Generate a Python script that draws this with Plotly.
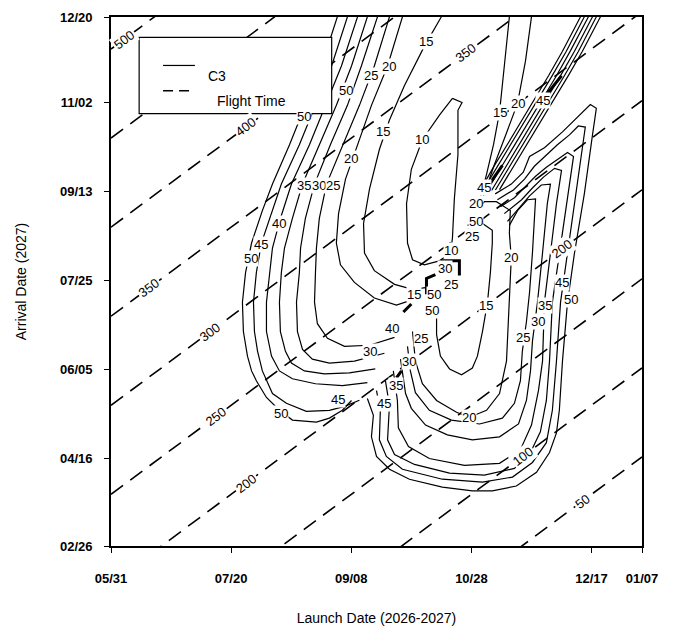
import plotly.graph_objects as go

# ---------------- axes (days since 05/31/2026 and since 02/26/2027) ----------------
LAUNCH_TICK_DAYS = [0, 50, 100, 150, 200, 221]
LAUNCH_TICK_TEXT = ["05/31", "07/20", "09/08", "10/28", "12/17", "01/07"]
ARRIVAL_TICK_DAYS = [0, 49, 99, 149, 199, 249, 297]
ARRIVAL_TICK_TEXT = ["02/26", "04/16", "06/05", "07/25", "09/13", "11/02", "12/20"]
LAUNCH_SPAN = 221
ARRIVAL_SPAN = 297

# ---------------- flight time (dashed) ----------------
TOF_LEVELS = [50, 100, 150, 200, 250, 300, 350, 400, 450, 500]
# (label, launch day where the label sits)
TOF_LABELS = [(500, 5.6), (400, 56.3), (350, 16.0), (350, 147.8), (300, 41.0),
              (250, 43.8), (200, 56.3), (200, 187.9), (100, 171.4), (50, 196.2)]

# ---------------- C3 contours: (launch day, arrival day) ----------------
# Type-II family (left lobe)
L50 = [(94.2,297.1),(87.6,269.5),(80.9,247.4),(74.3,225.3),(67.2,203.2),(63.0,188.3),(58.5,170.1),
       (56.0,153.5),(54.7,136.9),(55.1,120.4),(56.8,106.6),(58.5,98.3),(60.5,92.8),(64.7,83.4),
       (70.1,76.2),(75.5,70.7),(85.5,69.6),(90.9,71.8),(96.3,76.2),(100.1,81.7)]
L45 = [(98.4,297.1),(91.8,269.5),(85.1,247.4),(78.4,225.3),(70.9,203.2),(66.8,186.6),(62.6,170.1),
       (60.5,153.5),(59.3,136.9),(59.7,120.4),(61.0,109.3),(63.0,98.3),(67.2,85.6),(73.0,80.1),
       (81.3,75.6),(90.9,76.2),(97.2,78.4),(103.4,81.8)]
L40 = [(102.6,297.1),(95.9,269.5),(89.3,247.4),(82.6,225.3),(75.1,203.2),(70.5,183.9),(67.2,167.3),
       (66.0,153.5),(64.7,136.9),(64.7,120.4),(66.8,106.6),(70.1,98.3),(75.5,93.9),(85.1,91.1),
       (96.3,90.0),(106.7,91.7)]
L35 = [(106.7,297.1),(100.1,269.5),(93.8,247.4),(86.7,225.3),(79.7,203.2),(75.5,183.9),(72.2,167.3),
       (70.9,153.5),(70.1,136.9),(70.5,120.4),(72.6,109.3),(75.1,102.7),(80.5,98.3),(88.8,96.6),
       (99.2,97.2),(110.0,99.4)]
L30 = [(110.9,297.1),(104.2,269.5),(98.4,247.4),(91.3,225.3),(84.7,203.2),(80.9,183.9),(78.9,167.3),
       (78.4,153.5),(77.2,136.9),(77.6,120.4),(79.7,110.4),(83.8,104.9),(90.9,102.7),(101.3,103.8),
       (113.8,108.2)]
L25 = [(115.9,297.1),(109.6,269.5),(103.4,247.4),(96.7,225.3),(89.7,203.2),(86.7,183.9),(85.5,167.3),
       (85.1,153.5),(84.7,136.9),(85.9,124.8),(90.1,116.6),(97.2,112.1),(107.6,112.7),(118.0,117.1)]
L20 = [(121.3,297.1),(115.1,269.5),(108.4,247.4),(102.6,225.3),(97.6,206.0),(94.7,186.6),(93.8,170.1),
       (95.5,157.9),(101.3,148.0),(109.6,139.2),(118.8,135.3),(126.3,138.6)]
L15 = [(137.5,297.1),(130.4,280.5),(122.1,258.4),(115.9,239.2),(111.7,222.6),(107.6,200.5),(105.1,181.1),
       (105.5,164.5),(109.6,154.6),(118.0,146.9),(125.5,144.1),(131.7,145.2)]
L10 = [(142.1,251.3),(146.1,249.0),(144.4,244.6),(144.4,219.8),(142.9,194.9),(142.1,172.8),(141.3,164.5),
       (136.7,160.1),(130.4,157.9),(125.5,160.7),(123.4,170.1),(123.0,192.2),(125.0,211.5),(129.6,228.1),
       (136.7,241.9),(142.1,251.3)]
# upper band of the left lobe (right-hand arms running to the top)
L15B = [(152.5,189.4),(156.3,208.7),(159.2,225.3),(161.7,243.5),(163.7,269.5),(165.8,297.1)]
L20B = [(155.0,196.6),(159.6,214.2),(164.6,231.9),(169.2,248.5),(172.5,272.2),(175.0,297.1)]
L25B = [(153.6,199.5),(159.6,213.7),(165.4,226.4),(170.9,238.6),(176.3,250.7),(182.1,264.0),(187.9,277.8),(195.4,297.1)]
L30B = [(155.0,200.1),(161.2,213.9),(167.0,226.4),(172.5,238.8),(177.9,250.7),(183.7,264.2),(189.5,277.8),(197.0,297.1)]
L35B = [(156.7,199.9),(162.9,213.7),(168.7,226.6),(174.2,238.6),(179.6,250.9),(185.4,264.0),(191.2,278.0),(198.7,297.1)]
L40B = [(158.4,199.6),(164.6,213.5),(170.4,226.4),(175.9,238.4),(181.3,250.7),(187.1,264.1),(192.9,277.8),(200.4,297.1)]
L45B = [(160.0,199.9),(166.2,213.7),(172.0,226.2),(177.5,238.6),(182.9,250.5),(188.7,264.0),(194.5,277.6),(202.0,297.1)]
L50B = [(161.7,200.1),(167.9,213.9),(173.7,226.4),(179.2,238.7),(184.6,250.7),(190.4,264.2),(196.2,277.8),(203.7,297.1)]

# Type-I family (right lobe)
R50 = [(106.7,82.8),(109.2,73.4),(108.4,61.3),(110.5,50.3),(115.9,43.1),(124.2,37.5),(137.9,33.1),(150.4,30.9),
       (158.7,30.9),(168.7,33.7),(177.1,41.4),(182.5,52.5),(185.4,63.5),(186.6,76.2),(187.9,103.8),(190.0,136.9),
       (192.9,164.5),(197.0,197.7),(200.4,230.8),(202.0,245.7),(199.5,247.9),(193.7,240.2),(187.9,232.5),
       (180.4,223.6),(174.2,218.7),(171.6,209.9),(166.6,203.2),(159.9,197.7)]
R45 = [(110.5,87.2),(112.1,76.2),(111.7,59.6),(114.6,50.3),(121.3,43.1),(137.9,37.5),(154.6,35.9),(167.1,38.7),
       (175.4,46.9),(181.2,58.0),(183.7,76.2),(185.4,103.8),(187.1,136.9),(190.0,164.5),(193.7,197.7),(196.6,225.3),
       (197.4,235.2),(194.5,235.8),(190.8,230.8),(185.8,225.3),(180.8,218.7),(176.2,213.2),(172.1,206.0),
       (167.5,199.9),(160.8,194.4)]
R40 = [(114.2,92.8),(115.9,79.0),(115.1,59.6),(118.0,51.4),(126.3,45.8),(140.9,40.9),(155.4,39.8),(167.9,43.6),
       (174.2,51.4),(178.7,64.1),(181.2,81.7),(182.5,103.8),(183.7,136.9),(186.6,164.5),(189.6,192.2),(192.5,218.7),
       (190.0,220.9),(185.8,217.0),(181.2,212.6),(176.7,207.6),(172.5,201.6),(167.9,195.5),(162.1,190.5)]
R35 = [(117.5,98.3),(119.2,81.7),(119.6,66.3),(123.8,55.8),(132.5,49.1),(147.1,45.3),(161.7,46.4),(170.4,54.1),
       (175.0,67.9),(177.9,87.2),(179.6,103.8),(180.4,136.9),(182.9,164.5),(185.4,192.2),(187.5,210.9),(184.6,212.0),
       (180.0,207.1),(175.4,201.0),(170.9,194.4),(163.7,186.6)]
R30 = [(120.5,104.9),(122.6,85.6),(125.0,77.3),(130.9,67.9),(140.0,62.4),(150.4,59.6),(161.7,61.3),(169.6,68.5),
       (172.9,81.7),(174.6,98.3),(175.4,114.9),(177.5,136.9),(179.6,164.5),(181.6,192.2),(182.9,203.2),(179.1,202.7),
       (174.2,196.6),(169.6,189.4),(165.0,182.2)]
R25 = [(123.4,112.1),(124.6,98.3),(126.7,86.1),(132.5,76.2),(141.7,70.7),(153.4,68.5),(162.9,71.8),(167.9,80.1),
       (170.4,92.8),(171.2,109.3),(172.9,125.9),(174.2,142.5),(175.4,164.5),(176.2,183.9),(176.7,194.9),(173.3,194.4),
       (169.2,188.3),(165.8,180.0)]
R20 = [(125.5,120.4),(126.7,103.8),(129.6,91.1),(135.5,81.7),(143.8,75.1),(149.2,72.3),(156.3,76.2),(161.7,85.6),
       (164.6,103.8),(165.8,136.9),(166.6,161.8),(165.8,175.6),(166.2,188.3),(160.4,193.3),(155.4,193.3),(152.0,188.8)]
R15 = [(135.5,134.2),(135.5,118.7),(137.1,106.6),(140.9,99.4),(145.9,96.1),(150.4,99.9),(152.5,106.6),(154.6,120.4),
       (156.7,136.9),(157.9,153.5),(158.7,170.1),(158.7,177.3),(153.4,182.2),(148.4,180.0)]
R10 = [(137.9,152.4),(137.9,160.1),(145.0,160.1),(145.0,151.9)]

# short heavy fragments where many levels pile up along the transfer-angle discontinuity
PILE_LAUNCH = [131.3, 131.3, 135.0, None, 121.7, 125.0, None, 118.8, 120.9, None,
               157.5, 162.9, None, 181.6, 187.5]
PILE_ARRIVE = [141.4, 150.2, 152.4, None, 131.4, 135.9, None, 94.4, 98.3, None,
               203.2, 213.7, None, 254.0, 264.0]

C3_THIN = [L50, L45, L40, L35, L30, L25, L20, L15, L10,
           L15B, L20B, L25B, L30B, L35B, L40B, L45B, L50B,
           R50, R45, R40, R35, R30, R25, R20, R15]
C3_THICK = [R10]

# (text, launch day, arrival day)
C3_LABELS = [("50",58.3,161.2),("45",62.5,169.1),("40",70.1,181.1),("35",80.5,202.3),("30",86.4,202.3),
             ("25",92.2,202.3),("50",80.5,240.9),("50",97.9,255.7),("25",108.3,263.9),("20",115.9,269.1),
             ("15",131.2,283.3),("15",113.0,232.5),("20",100.0,217.5),("10",129.6,228.0),("10",141.6,165.7),
             ("50",70.8,74.5),("45",94.3,82.3),("15",126.3,141.4),("40",117.1,122.0),("30",107.6,109.3),
             ("15",156.1,135.3),("20",166.5,161.8),("25",171.4,117.0),("30",177.6,125.8),("35",180.8,135.3),
             ("50",191.5,138.6),("45",187.9,148.0),("35",118.7,90.0),("45",113.8,80.1),("20",149.2,72.3),
             ("30",124.2,103.8),("25",129.1,116.5),("50",133.8,132.5),("50",134.6,141.4),("25",141.4,146.6),
             ("30",139.0,155.6),("20",152.0,192.2),("50",152.0,182.2),("25",150.4,173.9),("45",155.4,201.5),
             ("15",161.7,243.5),("20",169.2,248.5),("45",179.6,250.1)]

FONT = "Liberation Sans, Arial, sans-serif"

fig = go.Figure()

for tof in TOF_LEVELS:
    fig.add_trace(go.Scatter(
        x=[0, LAUNCH_SPAN], y=[tof - LAUNCH_SPAN, tof], mode="lines",
        line=dict(color="black", width=1.6, dash="15px,9px"),
        showlegend=False, hoverinfo="skip"))

for path in C3_THIN:
    fig.add_trace(go.Scatter(
        x=[p[0] for p in path], y=[p[1] for p in path], mode="lines",
        line=dict(color="black", width=1.2), showlegend=False, hoverinfo="skip"))
for path in C3_THICK:
    fig.add_trace(go.Scatter(
        x=[p[0] for p in path], y=[p[1] for p in path], mode="lines",
        line=dict(color="black", width=3), showlegend=False, hoverinfo="skip"))
fig.add_trace(go.Scatter(x=PILE_LAUNCH, y=PILE_ARRIVE, mode="lines", connectgaps=False,
                         line=dict(color="black", width=3), showlegend=False, hoverinfo="skip"))

annotations = []
for txt, lx, ly in C3_LABELS:
    annotations.append(dict(x=lx, y=ly, xref="x", yref="y", text=txt, showarrow=False,
                            font=dict(family=FONT, size=13, color="black"),
                            bgcolor="white", borderpad=0))
for tof, lx in TOF_LABELS:
    annotations.append(dict(x=lx, y=lx + tof - LAUNCH_SPAN, xref="x", yref="y", text=str(tof),
                            showarrow=False, textangle=-37,
                            font=dict(family=FONT, size=13, color="black"),
                            bgcolor="white", borderpad=1))

# legend (drawn by hand to mimic the boxed original)
annotations.append(dict(x=0.178, y=0.908, xref="paper", yref="paper", text="C3", showarrow=False,
                        xanchor="left", font=dict(family=FONT, size=14, color="black")))
annotations.append(dict(x=0.195, y=0.861, xref="paper", yref="paper", text="Flight Time", showarrow=False,
                        xanchor="left", font=dict(family=FONT, size=14, color="black")))
shapes = [
    dict(type="rect", xref="paper", yref="paper", x0=0.053, x1=0.4156, y0=0.8173, y1=0.9615,
         line=dict(color="black", width=1.2), fillcolor="white", layer="above"),
    dict(type="line", xref="paper", yref="paper", x0=0.098, x1=0.158, y0=0.9084, y1=0.9084,
         line=dict(color="black", width=1.2), layer="above"),
    dict(type="line", xref="paper", yref="paper", x0=0.098, x1=0.158, y0=0.8606, y1=0.8606,
         line=dict(color="black", width=1.4, dash="10px,6px"), layer="above"),
]

fig.update_layout(
    width=677, height=634,
    margin=dict(l=111, r=35, t=10, b=86),
    paper_bgcolor="white", plot_bgcolor="white",
    font=dict(family=FONT, size=13, color="black"),
    annotations=annotations, shapes=shapes,
    xaxis=dict(range=[0, LAUNCH_SPAN], tickmode="array", tickvals=LAUNCH_TICK_DAYS,
               ticktext=LAUNCH_TICK_TEXT, ticks="outside", ticklen=5, tickcolor="black",
               showline=True, linecolor="black", linewidth=1.6, mirror=True, showgrid=False,
               zeroline=False, ticklabelstandoff=15,
               tickfont=dict(family=FONT, size=13, color="black", weight="bold"),
               title=dict(text="Launch Date (2026-2027)", standoff=28,
                          font=dict(family=FONT, size=14, color="black"))),
    yaxis=dict(range=[0, ARRIVAL_SPAN], tickmode="array", tickvals=ARRIVAL_TICK_DAYS,
               ticktext=ARRIVAL_TICK_TEXT, ticks="outside", ticklen=5, tickcolor="black",
               showline=True, linecolor="black", linewidth=1.6, mirror=True, showgrid=False,
               zeroline=False, ticklabelstandoff=9,
               tickfont=dict(family=FONT, size=13, color="black", weight="bold"),
               title=dict(text="Arrival Date (2027)", standoff=30,
                          font=dict(family=FONT, size=14, color="black"))),
)

fig.write_html("out.html")
